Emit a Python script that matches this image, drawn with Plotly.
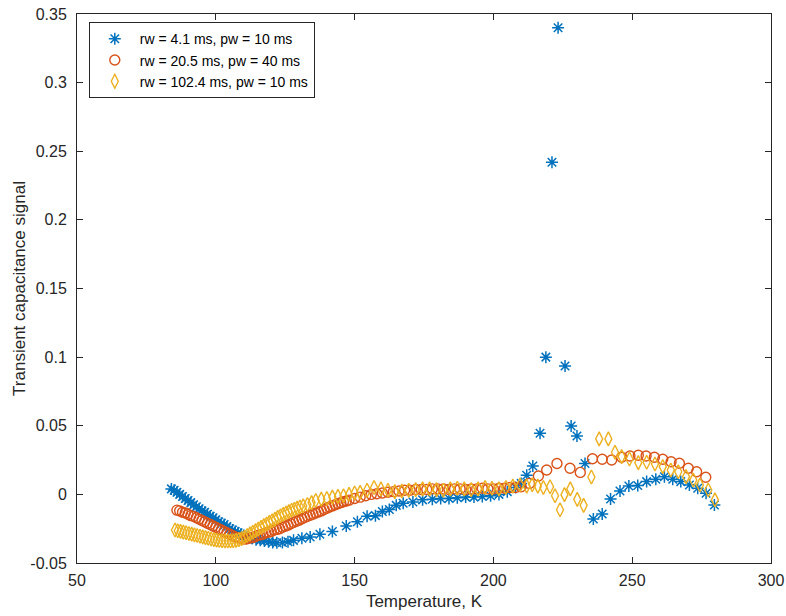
import plotly.graph_objects as go

# Series 1: rw = 4.1 ms, pw = 10 ms  (asterisks)
t_blue = [84, 85, 86, 87, 88, 89, 90, 91, 92, 93, 94, 95, 96, 97, 98, 99, 100, 101, 102, 103,
          104, 105, 106, 107, 108, 109, 110, 111.5, 113, 114.5, 116, 117.5, 119, 120.5, 122, 124,
          126, 128, 131, 134, 137.5, 142, 147, 151, 154.5, 157.5, 160, 162.5, 165, 167.5, 171,
          174.5, 178, 181, 184, 187, 190, 193, 196, 199, 202, 205, 208, 210, 212, 214.2, 216.8,
          218.9, 221.1, 223.3, 225.8, 228.0, 230.1, 233.0, 236.0, 239.2, 242.2, 245.6, 248.8,
          252.0, 255.2, 258.5, 261.6, 264.6, 267.5, 270.6, 273.6, 276.6, 279.6]
v_blue = [0.004, 0.003, 0.0015, 0.0, -0.0015, -0.003, -0.0045, -0.006, -0.0075, -0.009, -0.0105,
          -0.012, -0.013, -0.0145, -0.016, -0.017, -0.0185, -0.020, -0.021, -0.022, -0.0235,
          -0.025, -0.026, -0.027, -0.028, -0.029, -0.030, -0.031, -0.032, -0.033, -0.0335,
          -0.034, -0.0345, -0.035, -0.0352, -0.035, -0.0345, -0.0335, -0.032, -0.031, -0.029,
          -0.027, -0.023, -0.020, -0.016, -0.0155, -0.0125, -0.011, -0.008, -0.0065, -0.0055,
          -0.004, -0.0035, -0.003, -0.003, -0.0025, -0.002, -0.002, -0.0015, -0.001, 0.0, 0.002,
          0.005, 0.008, 0.014, 0.0207, 0.0445, 0.100, 0.242, 0.340, 0.0936, 0.0498, 0.0425,
          0.0225, -0.018, -0.0143, -0.0034, 0.0025, 0.0061, 0.0064, 0.0093, 0.011, 0.0129, 0.011,
          0.0093, 0.0068, 0.0044, 0.0008, -0.0077]

# Series 2: rw = 20.5 ms, pw = 40 ms  (circles)
t_orange = [86, 87, 88, 89, 90, 91, 92, 93, 94, 95, 96, 97, 98, 99, 100, 101, 102, 103, 104, 105,
            106, 107, 108, 109, 110, 111, 112, 113, 114, 115, 116, 117, 118, 119, 120, 121, 122,
            123, 124, 125, 126, 127, 128, 129, 130, 131, 132, 133, 134, 135, 136, 137, 138, 139,
            140, 141, 142, 143, 144, 145, 146, 147, 148, 150, 152, 154, 156, 158, 160, 162, 164,
            166, 168, 170, 172, 174, 176, 178, 180, 182, 184, 186, 188, 190, 192, 194, 196, 198,
            200, 202, 204, 206, 208, 210, 213, 216.2, 219.2, 222.9, 227.6, 231.3, 235.7, 239.2,
            242.6, 246.2, 249.2, 252.2, 255.0, 258.0, 261.0, 264.0, 267.0, 270.2, 273.2, 276.5]
v_orange = [-0.0115, -0.012, -0.013, -0.0135, -0.0145, -0.0155, -0.016, -0.017, -0.018, -0.019,
            -0.020, -0.021, -0.022, -0.023, -0.024, -0.025, -0.026, -0.027, -0.028, -0.029,
            -0.030, -0.031, -0.0315, -0.032, -0.0325, -0.0325, -0.032, -0.0315, -0.031, -0.030,
            -0.0295, -0.029, -0.028, -0.0275, -0.027, -0.026, -0.0255, -0.025, -0.024, -0.0232,
            -0.0224, -0.0214, -0.0204, -0.0196, -0.0188, -0.0178, -0.0168, -0.016, -0.0152,
            -0.0144, -0.0136, -0.0128, -0.012, -0.011, -0.010, -0.0092, -0.0084, -0.0076,
            -0.0068, -0.006, -0.0054, -0.0048, -0.0042, -0.003, -0.002, -0.001, 0.0, 0.0005,
            0.001, 0.0015, 0.002, 0.0025, 0.003, 0.003, 0.0035, 0.0035, 0.0035, 0.004, 0.004,
            0.004, 0.0035, 0.004, 0.004, 0.0035, 0.004, 0.004, 0.0045, 0.004, 0.004, 0.0045,
            0.0045, 0.005, 0.005, 0.0055, 0.008, 0.0134, 0.0178, 0.0225, 0.019, 0.016, 0.026,
            0.0256, 0.025, 0.027, 0.028, 0.0285, 0.028, 0.027, 0.0256, 0.0238, 0.0227, 0.019,
            0.0165, 0.0125]

# Series 3: rw = 102.4 ms, pw = 10 ms  (diamonds)
t_yellow = [85.3, 86.3, 87.3, 88.3, 89.3, 90.3, 91.3, 92.3, 93.3, 94.3, 95.3, 96.3, 97.3, 98.3,
            99.3, 100.3, 101.3, 102.3, 103.3, 104.3, 105.3, 106.3, 107.3, 108.3, 109.3, 110.3,
            111.3, 112.3, 113.3, 114.3, 115.3, 116.3, 117.3, 118.3, 119.3, 120.3, 121.3, 122.3,
            123.3, 124.3, 125.3, 126.3, 127.3, 128.3, 129.3, 130.3, 131.5, 133, 134.5, 136, 138,
            140, 142, 144, 146, 148, 150, 152, 154.5, 157, 159.5, 162, 164.5, 167, 169.5, 172,
            174.5, 177, 179.5, 182, 184.5, 187, 189.5, 192, 194.5, 197, 199.5, 202, 204.5, 207,
            209.6, 212, 214, 216, 218, 220.4, 222.2, 224.0, 225.6, 227.7, 230.2, 232.5, 235.3,
            238.1, 241.4, 243.8, 246.2, 249.0, 252.2, 255.2, 258.2, 261.0, 263.9, 266.6, 269.4,
            272.0, 274.4, 277.4, 279.8]
v_yellow = [-0.026, -0.0265, -0.027, -0.0275, -0.028, -0.0285, -0.029, -0.0295, -0.030, -0.0305,
            -0.031, -0.0315, -0.032, -0.0325, -0.033, -0.0333, -0.0336, -0.0338, -0.034, -0.034,
            -0.034, -0.0338, -0.0335, -0.033, -0.0322, -0.0312, -0.030, -0.0288, -0.0276,
            -0.0264, -0.0252, -0.024, -0.0228, -0.0216, -0.0204, -0.0192, -0.018, -0.0168,
            -0.0156, -0.0146, -0.0136, -0.0126, -0.0116, -0.0108, -0.010, -0.0092, -0.0084,
            -0.0074, -0.006, -0.0045, -0.0035, -0.003, -0.002, -0.0015, -0.001, 0.0, 0.001,
            0.0015, 0.003, 0.005, 0.004, 0.003, 0.002, 0.0025, 0.003, 0.0035, 0.004, 0.004,
            0.0035, 0.003, 0.004, 0.0045, 0.004, 0.0035, 0.004, 0.005, 0.0045, 0.004, 0.005,
            0.006, 0.0068, 0.006, 0.007, 0.006, 0.005, 0.0056, -0.001, -0.0112, -0.0002, 0.004,
            -0.0036, -0.008, 0.0127, 0.0404, 0.0404, 0.0307, 0.0275, 0.0258, 0.0231, 0.0234,
            0.0221, 0.0202, 0.0178, 0.0165, 0.0129, 0.0105, 0.0068, 0.0032, -0.004]

names = ["rw = 4.1 ms, pw = 10 ms", "rw = 20.5 ms, pw = 40 ms", "rw = 102.4 ms, pw = 10 ms"]
x_ticks = [50, 100, 150, 200, 250, 300]
y_ticks = [-0.05, 0, 0.05, 0.1, 0.15, 0.2, 0.25, 0.3, 0.35]
y_tick_text = ["-0.05", "0", "0.05", "0.1", "0.15", "0.2", "0.25", "0.3", "0.35"]

FONT = "Liberation Sans, Arial, Helvetica"
INK = "#262626"

fig = go.Figure()
fig.add_trace(go.Scatter(x=t_blue, y=v_blue, mode="markers", name=names[0],
                         marker=dict(symbol="asterisk-open", size=10, color="#0072BD",
                                     line=dict(color="#0072BD", width=1.5))))
fig.add_trace(go.Scatter(x=t_orange, y=v_orange, mode="markers", name=names[1],
                         marker=dict(symbol="circle-open", size=10, color="#D95319",
                                     line=dict(color="#D95319", width=1.4))))
fig.add_trace(go.Scatter(x=t_yellow, y=v_yellow, mode="markers", name=names[2],
                         marker=dict(symbol="diamond-tall-open", size=10, color="#EDB120",
                                     line=dict(color="#EDB120", width=1.4))))

axis_common = dict(showgrid=False, zeroline=False, showline=True, mirror="ticks",
                   linecolor=INK, linewidth=1, ticks="inside", ticklen=6,
                   tickcolor=INK, automargin=False, ticklabeloverflow="allow",
                   tickfont=dict(family=FONT, size=16, color=INK))
fig.update_xaxes(range=[50, 300], tickvals=x_ticks, ticktext=[str(v) for v in x_ticks],
                 ticklabelstandoff=3,
                 title=dict(text="Temperature, K", font=dict(family=FONT, size=17, color=INK),
                            standoff=6),
                 **axis_common)
fig.update_yaxes(range=[-0.05, 0.35], tickvals=y_ticks, ticktext=y_tick_text,
                 ticklabelstandoff=6,
                 title=dict(text="Transient capacitance signal",
                            font=dict(family=FONT, size=17, color=INK), standoff=0),
                 **axis_common)
fig.update_layout(
    width=786, height=616, autosize=False,
    margin=dict(l=77, r=15, t=14, b=53),
    plot_bgcolor="white", paper_bgcolor="white",
    legend=dict(x=0.017, y=0.985, xanchor="left", yanchor="top", bgcolor="white",
                bordercolor=INK, borderwidth=1,
                font=dict(family=FONT, size=14, color="#000000"),
                itemwidth=40, tracegroupgap=0),
    showlegend=True,
)
fig.write_html("out.html", config={"displayModeBar": False},
               post_script="document.body.style.margin='0px';document.body.style.overflow='hidden';")
